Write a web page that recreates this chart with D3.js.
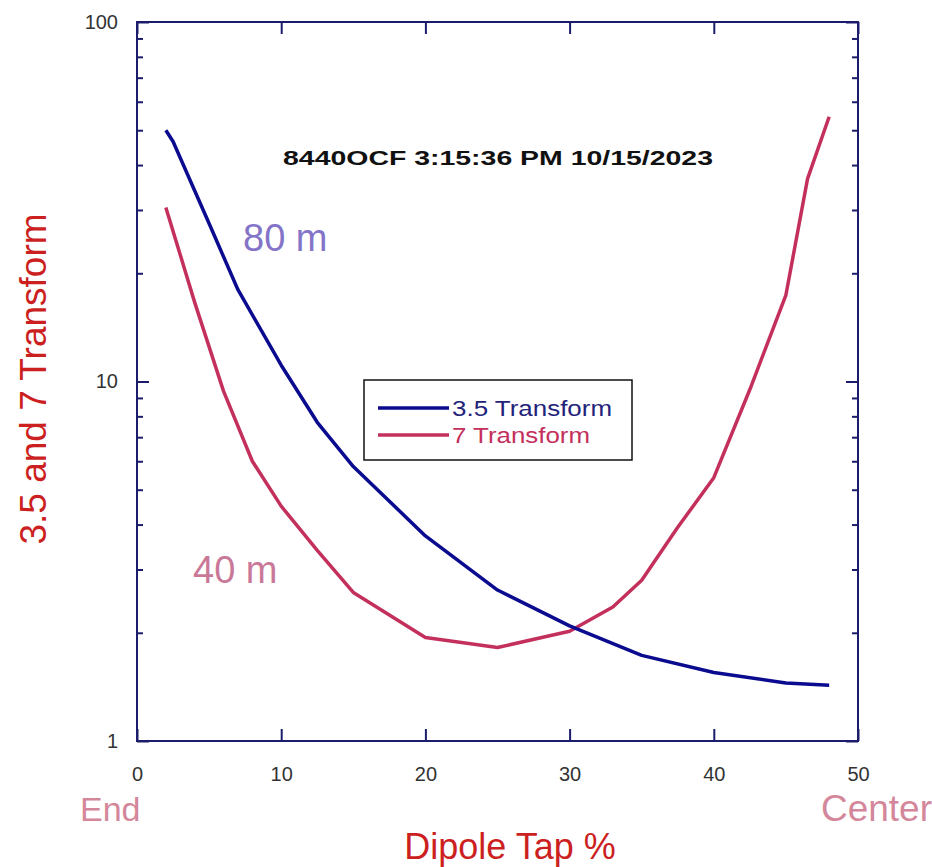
<!DOCTYPE html>
<html>
<head>
<meta charset="utf-8">
<script src="https://cdn.jsdelivr.net/npm/d3@7/dist/d3.min.js"></script>
<style>
  html, body { margin: 0; padding: 0; background: #ffffff; }
  svg { display: block; }
  text { font-family: "Liberation Sans", Arial, sans-serif; }
</style>
</head>
<body>
<svg id="chart" width="932" height="867"></svg>
<script>
// ---- data ----
const tap35 = [2, 2.5, 5, 7, 10, 12.5, 15, 20, 25, 30, 35, 40, 45, 48];
const transform35 = [50, 46.5, 27.5, 18, 11.1, 7.7, 5.8, 3.72, 2.63, 2.09, 1.73, 1.55, 1.45, 1.43];
const tap7 = [2, 4, 6, 8, 10, 12.5, 15, 20, 25, 30, 33, 35, 37.5, 40, 42.5, 45, 46.5, 48];
const transform7 = [30.5, 16.6, 9.4, 6.0, 4.5, 3.39, 2.59, 1.94, 1.82, 2.02, 2.36, 2.8, 3.93, 5.4, 9.5, 17.4, 36.6, 54.5];
const xTicks = [0, 10, 20, 30, 40, 50];
const yTicks = [1, 10, 100];
const yMinor = [2, 3, 4, 5, 6, 7, 8, 9, 20, 30, 40, 50, 60, 70, 80, 90];
const seriesNames = ["3.5 Transform", "7 Transform"];
const titleText = "8440OCF 3:15:36 PM 10/15/2023";

const svg = d3.select("#chart");
const L = 137, R = 858, T = 22, B = 741;
const x = d3.scaleLinear().domain([0, 50]).range([L, R]);
const y = d3.scaleLog().domain([1, 100]).range([B, T]);
const axisColor = "#1c1c6c";

// frame
svg.append("rect").attr("x", L).attr("y", T).attr("width", R - L).attr("height", B - T)
  .attr("fill", "none").attr("stroke", axisColor).attr("stroke-width", 2);

// axes with inward ticks
const gx = svg.append("g").attr("transform", `translate(0,${B})`)
  .call(d3.axisBottom(x).tickValues(xTicks).tickSize(-12).tickPadding(26).tickFormat(d3.format("d")));
const gxt = svg.append("g").attr("transform", `translate(0,${T})`)
  .call(d3.axisTop(x).tickValues(xTicks).tickSize(-12).tickFormat(""));
const gy = svg.append("g").attr("transform", `translate(${L},0)`)
  .call(d3.axisLeft(y).tickValues(yTicks).tickSize(-12).tickPadding(19).tickFormat(d3.format("d")));
const gyr = svg.append("g").attr("transform", `translate(${R},0)`)
  .call(d3.axisRight(y).tickValues(yTicks).tickSize(-12).tickFormat(""));
const gym = svg.append("g").attr("transform", `translate(${L},0)`)
  .call(d3.axisLeft(y).tickValues(yMinor).tickSize(-6).tickFormat(""));
const gymr = svg.append("g").attr("transform", `translate(${R},0)`)
  .call(d3.axisRight(y).tickValues(yMinor).tickSize(-6).tickFormat(""));

[gx, gxt, gy, gyr, gym, gymr].forEach(g => {
  g.select(".domain").remove();
  g.selectAll(".tick line").attr("stroke", axisColor).attr("stroke-width", 2);
  g.selectAll(".tick text").attr("fill", "#333").style("font-size", "20px")
    .style("font-family", "'Liberation Sans', Arial, sans-serif");
});

// lines
const line = d3.line().x(d => x(d[0])).y(d => y(d[1]));
const d35 = tap35.map((t, i) => [t, transform35[i]]);
const d7 = tap7.map((t, i) => [t, transform7[i]]);
svg.append("path").datum(d7).attr("d", line).attr("fill", "none")
  .attr("stroke", "#c4305c").attr("stroke-width", 3.5).attr("stroke-linejoin", "round");
svg.append("path").datum(d35).attr("d", line).attr("fill", "none")
  .attr("stroke", "#0b0b8f").attr("stroke-width", 3.5).attr("stroke-linejoin", "round");

// title
svg.append("text").attr("x", 283).attr("y", 165)
  .attr("textLength", 430).attr("lengthAdjust", "spacingAndGlyphs")
  .style("font-size", "21px").style("font-weight", "bold").attr("fill", "#111").text(titleText);

// band annotations
svg.append("text").attr("x", 243).attr("y", 251).style("font-size", "38px").attr("fill", "#8474c8").text("80 m");
svg.append("text").attr("x", 193).attr("y", 583).style("font-size", "38px").attr("fill", "#c97898").text("40 m");

// legend
const lg = svg.append("g");
lg.append("rect").attr("x", 364).attr("y", 380).attr("width", 268).attr("height", 80)
  .attr("fill", "#fff").attr("stroke", "#111").attr("stroke-width", 1.5);
const legColors = ["#0b0b8f", "#c4305c"];
const legText = ["#23237a", "#c4305c"];
const legWidths = [160, 138];
seriesNames.forEach((n, i) => {
  const yy = 408 + i * 27;
  lg.append("line").attr("x1", 378).attr("x2", 449).attr("y1", yy).attr("y2", yy)
    .attr("stroke", legColors[i]).attr("stroke-width", 3.5);
  lg.append("text").attr("x", 452).attr("y", yy + 8).style("font-size", "22px")
    .attr("textLength", legWidths[i]).attr("lengthAdjust", "spacingAndGlyphs")
    .attr("fill", legText[i]).text(n);
});

// axis titles
svg.append("text").attr("transform", "translate(46,379) rotate(-90)").attr("text-anchor", "middle")
  .style("font-size", "37px").attr("fill", "#cc1f1f").text("3.5 and 7 Transform");
svg.append("text").attr("x", 510).attr("y", 859).attr("text-anchor", "middle")
  .style("font-size", "36px").attr("fill", "#cc1f1f").text("Dipole Tap %");
svg.append("text").attr("x", 80).attr("y", 821).style("font-size", "34px").attr("fill", "#d4879a").text("End");
svg.append("text").attr("x", 932).attr("y", 821).attr("text-anchor", "end").style("font-size", "37px").attr("fill", "#d4879a").text("Center");
</script>
</body>
</html>
